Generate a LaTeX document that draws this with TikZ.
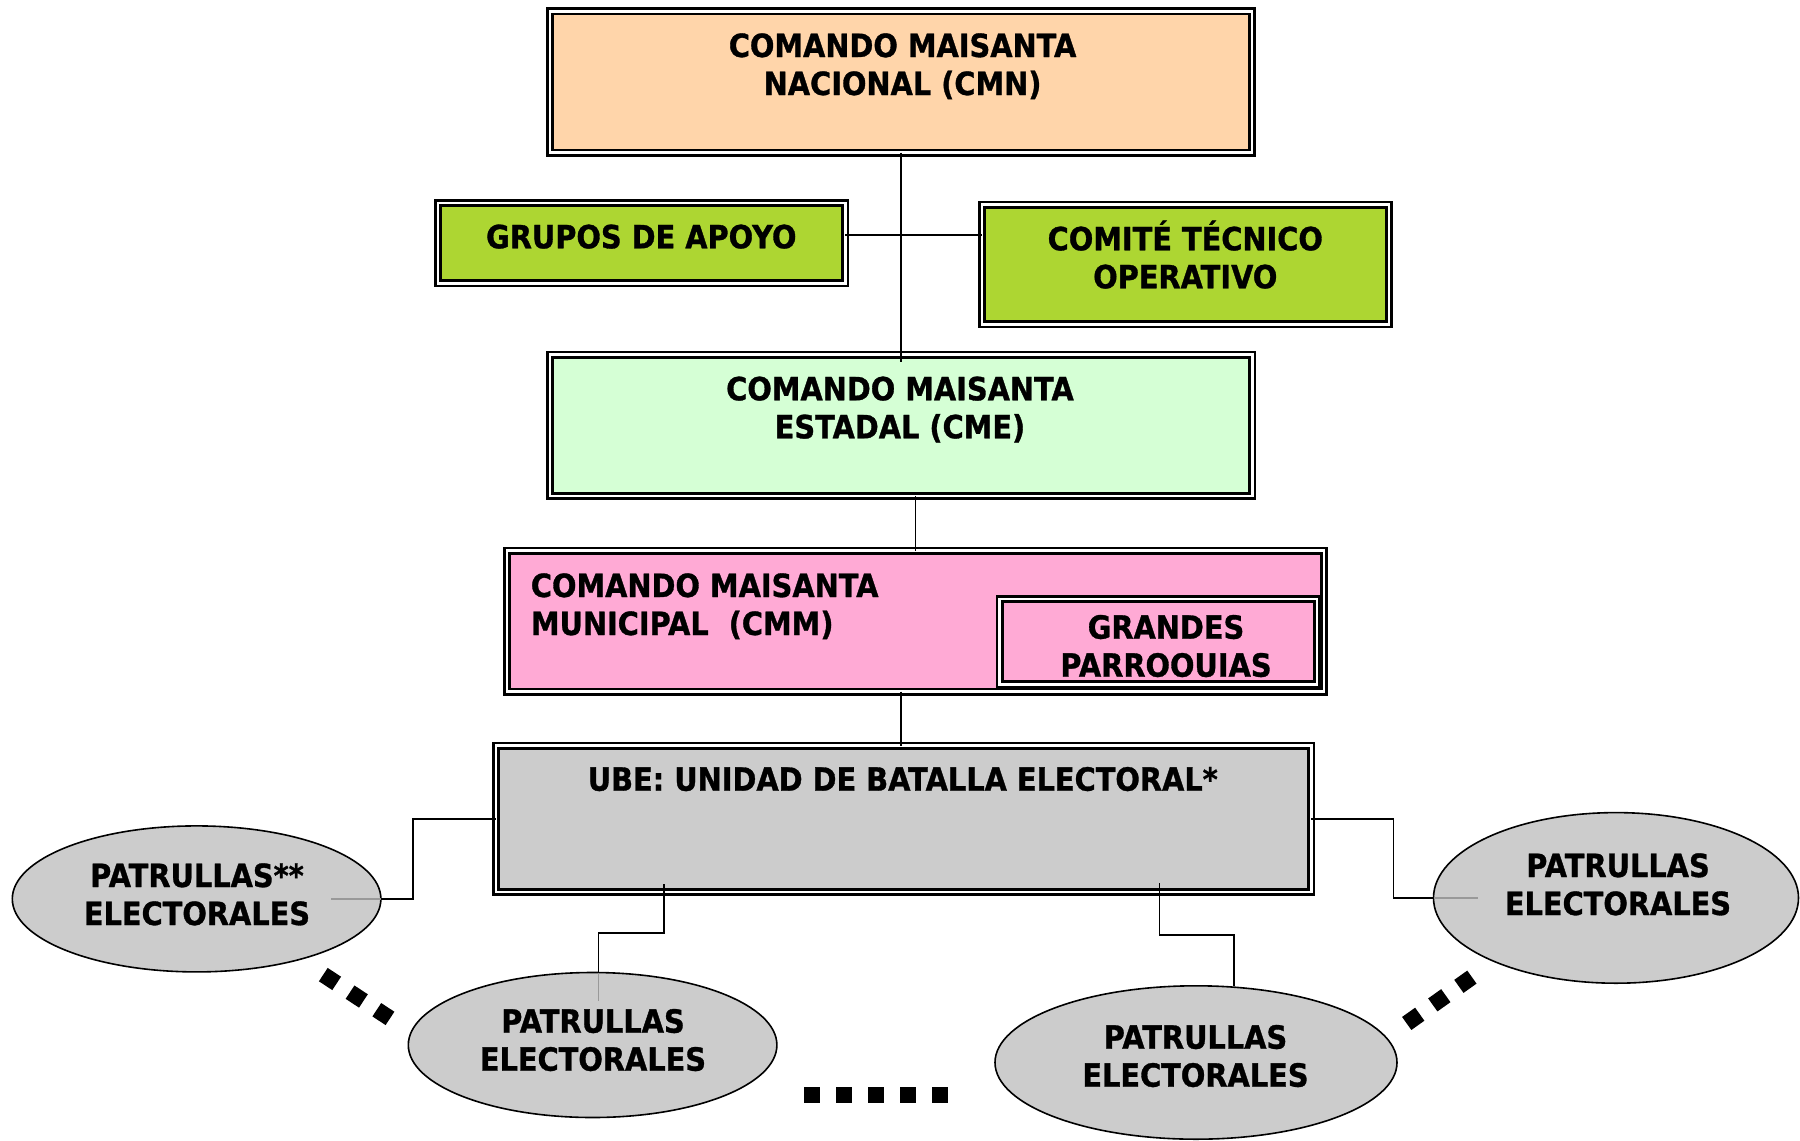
\documentclass[tikz,border=0pt]{standalone}
\usepackage{fontspec}
\setmainfont{DejaVu Sans}[FakeStretch=0.9,BoldFeatures={FakeBold=1}]
\usetikzlibrary{calc,shapes.geometric}
\definecolor{cmncol}{HTML}{FFD5AA}
\definecolor{apoyocol}{HTML}{ADD632}
\definecolor{cmecol}{HTML}{D5FFD5}
\definecolor{cmmcol}{HTML}{FFAAD5}
\definecolor{ubecol}{HTML}{CCCCCC}
\begin{document}
\begin{tikzpicture}[x=0.5pt,y=-0.5pt,
    box/.style={rectangle,draw=black,line width=1.35pt,double=white,double distance=1.3pt,inner sep=0pt,outer sep=0pt},
    patrulla/.style={ellipse,draw=black,line width=0.8pt,fill=ubecol,inner sep=0pt,outer sep=0pt},
    txt/.style={font=\bfseries\fontsize{16}{19}\selectfont,align=center,anchor=base,inner sep=0pt},
    link/.style={draw=black,line width=0.75pt},
    greyline/.style={draw=black!40,line width=0.75pt},
    dotrow/.style={draw=black,line width=8pt,dash pattern=on 8pt off 8pt}]
      \useasboundingbox (0,0) rectangle (1800,1141);
      \draw
        (901,82) node[box,fill=cmncol,minimum width=351pt,minimum height=70.7pt] (cmn){}
        (641.6,243.2) node[box,fill=apoyocol,minimum width=203.8pt,minimum height=40.15pt] (grupos){}
        (1185.5,264.5) node[box,fill=apoyocol,minimum width=203.5pt,minimum height=59.8pt] (comite){}
        (901,425.4) node[box,fill=cmecol,minimum width=351.2pt,minimum height=70.65pt] (cme){}
        (915.5,621.2) node[box,fill=cmmcol,minimum width=408.5pt,minimum height=70.5pt] (cmm){}
        (1158.3,641.7) node[box,fill=cmmcol,minimum width=158.7pt,minimum height=42.65pt] (grandes){}
        (903.7,818.9) node[box,fill=ubecol,minimum width=407.7pt,minimum height=73.15pt] (ube){}
        (196.6,898.9) node[patrulla,minimum width=184.3pt,minimum height=73pt] (pe1){}
        (592.6,1045) node[patrulla,minimum width=184.3pt,minimum height=72.5pt] (pe2){}
        (1616,897.9) node[patrulla,minimum width=182.5pt,minimum height=85.3pt] (pe3){}
        (1196,1062.5) node[patrulla,minimum width=201pt,minimum height=76.7pt] (pe4){};
      \coordinate (cme-tip) at (901,362);
      \coordinate (hub) at (901,235);
      \coordinate (ube-l) at (664,884);
      \coordinate (ube-r) at (1159.4,883);
      \begin{scope}[link]
        \draw (cmn.south) -- (cme-tip);
        \draw (grupos.east |- hub) -- (comite.west |- hub);
        \draw (cmm.north) -- (cmm.north |- cme.south);
        \draw (cmm.south -| cme-tip) -- (ube.north -| cme-tip);
        \draw (ube.west) -- ++(-83,0) |- (pe1.east);
        \draw (ube-l) -- ++(0,49) -| ($(pe2.north)+(6,0)$);
        \draw (ube.east) -- ++(82,0) |- (pe3.west);
        \draw (ube-r) -- ++(0,52) -| ($(pe4.north)+(38,0)$);
      \end{scope}
      \begin{scope}[greyline]
        \draw (pe1.east) -- ++(-50,0);
        \draw ($(pe2.north)+(6,0)$) -- ++(0,28);
        \draw (pe3.west) -- ++(44,0);
      \end{scope}
      \draw
        (902.6,95) node[txt] (cmn-t){COMANDO MAISANTA\\NACIONAL (CMN)}
        (641.3,248.3) node[txt] (grupos-t){GRUPOS DE APOYO}
        (1185.3,288.3) node[txt] (comite-t){COMITÉ TÉCNICO\\OPERATIVO}
        (900,438.3) node[txt] (cme-t){COMANDO MAISANTA\\ESTADAL (CME)}
        (530.5,635) node[txt,align=left,anchor=base west] (cmm-t){COMANDO MAISANTA\\MUNICIPAL\ \ (CMM)}
        (1166,676.7) node[txt] (grandes-t){GRANDES\\PARROOUIAS}
        (902.8,790.7) node[txt] (ube-t){UBE: UNIDAD DE BATALLA ELECTORAL*}
        (197,925) node[txt] (pe1-t){PATRULLAS**\\ELECTORALES}
        (593,1070.7) node[txt] (pe2-t){PATRULLAS\\ELECTORALES}
        (1618,915) node[txt] (pe3-t){PATRULLAS\\ELECTORALES}
        (1195.5,1086.7) node[txt] (pe4-t){PATRULLAS\\ELECTORALES};
      \draw[dotrow] (804,1094.7) -- (948,1094.7);
      \draw[dotrow] (323.3,974.6) -- (390,1018.4);
      \draw[dotrow] (1471.9,977.1) -- (1406.1,1023.9);
    \end{tikzpicture}
\end{document}
